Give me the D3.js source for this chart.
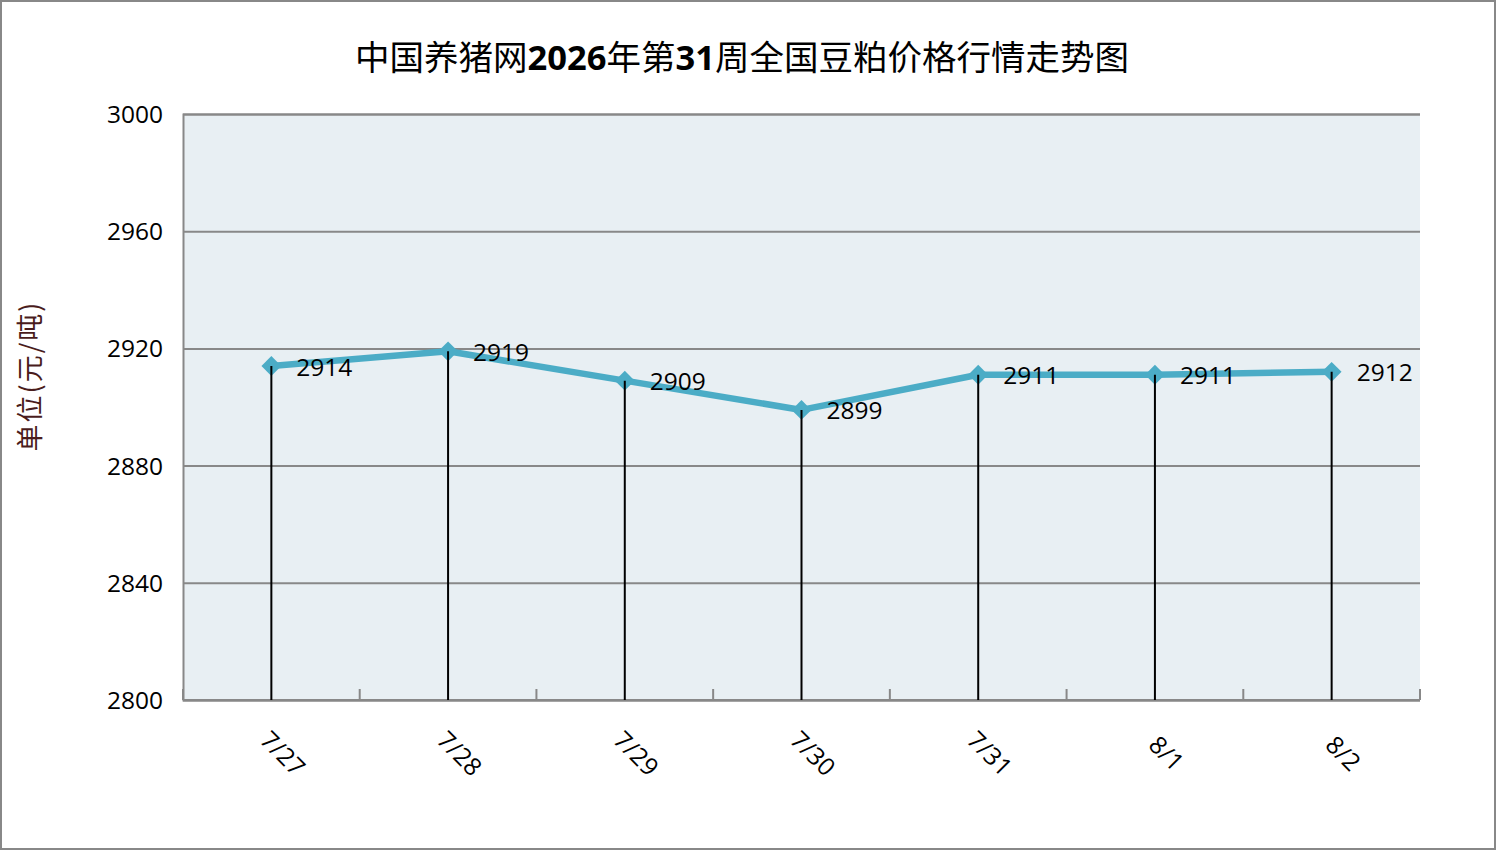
<!DOCTYPE html>
<html><head><meta charset="utf-8">
<script src="https://cdn.jsdelivr.net/npm/d3@7"></script>
<style>html,body{margin:0;padding:0;background:#fff;}svg{display:block;}</style>
</head><body>
<script>
const categories = ["7/27","7/28","7/29","7/30","7/31","8/1","8/2"];
const values = [2914, 2919, 2909, 2899, 2911, 2911, 2912];
const yTicks = [2800, 2840, 2880, 2920, 2960, 3000];
const titleParts = [["中国养猪网",false],["2026",true],["年第",false],["31",true],["周全国豆粕价格行情走势图",false]];
const yLabel = "单位(元/吨)";

const W = 1497, H = 851;
const m = {left:183, right:1420, top:114, bottom:700};
const svg = d3.select("body").append("svg").attr("width", W).attr("height", H);

svg.append("rect").attr("x",1).attr("y",1).attr("width",W-3).attr("height",H-3)
  .attr("fill","#fff").attr("stroke","#888").attr("stroke-width",2);

const x = d3.scaleBand().domain(categories).range([m.left, m.right]).padding(0);
const y = d3.scaleLinear().domain([2800, 3000]).range([m.bottom, m.top]);

svg.append("rect").attr("x",m.left).attr("y",m.top).attr("width",m.right-m.left).attr("height",m.bottom-m.top)
  .attr("fill","#E8EFF3");

const font = "'Open Sans','Noto Sans',sans-serif";
const fs = 24.5;

// y axis grid and labels
const yAxis = d3.axisLeft(y).tickValues(yTicks).tickSize(-(m.right-m.left)).tickPadding(20).tickFormat(d3.format("d"));
const gy = svg.append("g").attr("transform",`translate(${m.left},0)`).call(yAxis);
gy.select(".domain").attr("stroke","#888").attr("stroke-width",2);
gy.selectAll(".tick line").attr("stroke","#888").attr("stroke-width",2);
gy.selectAll(".tick text").attr("font-family",font).attr("font-size",fs).attr("fill","#000").attr("dy","0.35em");

// x axis
const bounds = categories.map(c => x(c)).concat([m.right]);
const gx = svg.append("g");
gx.append("line").attr("x1",m.left).attr("x2",m.right).attr("y1",m.bottom).attr("y2",m.bottom)
  .attr("stroke","#888").attr("stroke-width",2);
gx.selectAll("line.tk").data(bounds).join("line").attr("class","tk")
  .attr("x1",d=>d).attr("x2",d=>d).attr("y1",m.bottom).attr("y2",m.bottom-11)
  .attr("stroke","#888").attr("stroke-width",2);
gx.selectAll("text").data(categories).join("text")
  .attr("transform",d=>`translate(${x(d)+x.bandwidth()/2+10},755) rotate(45)`)
  .attr("text-anchor","middle").attr("dominant-baseline","middle")
  .attr("font-family",font).attr("font-size",fs).attr("fill","#000").text(d=>d);

const cx = d => x(d)+x.bandwidth()/2;
const pts = categories.map((c,i)=>({c, v:values[i]}));

// line
svg.append("path").datum(pts)
  .attr("d", d3.line().x(d=>cx(d.c)).y(d=>y(d.v)))
  .attr("fill","none").attr("stroke","#4BACC6").attr("stroke-width",6.5).attr("stroke-linejoin","round");

// markers
svg.selectAll("path.mk").data(pts).join("path").attr("class","mk")
  .attr("d", d3.symbol().type(d3.symbolDiamond2).size(250))
  .attr("transform", d=>`translate(${cx(d.c)},${y(d.v)})`)
  .attr("fill","#4BACC6");

// drop lines
svg.selectAll("line.drop").data(pts).join("line").attr("class","drop")
  .attr("x1",d=>cx(d.c)).attr("x2",d=>cx(d.c)).attr("y1",d=>y(d.v)).attr("y2",m.bottom)
  .attr("stroke","#000").attr("stroke-width",2);

// data labels
svg.selectAll("text.lbl").data(pts).join("text").attr("class","lbl")
  .attr("x",d=>cx(d.c)+25).attr("y",d=>y(d.v)+3)
  .attr("dominant-baseline","middle")
  .attr("font-family",font).attr("font-size",fs).attr("fill","#000").text(d=>d.v);

// title
const t = svg.append("text").attr("x",742).attr("y",70).attr("text-anchor","middle")
  .attr("font-family","'Noto Sans CJK SC','Open Sans',sans-serif").attr("font-size",34.5).attr("fill","#000");
titleParts.forEach(([s,b]) => {
  t.append("tspan").attr("font-weight", b ? "bold" : "normal")
   .attr("font-family", b ? "'Open Sans',sans-serif" : "'Noto Sans CJK SC',sans-serif").text(s);
});

// y label
svg.append("text").attr("transform","translate(33,376) rotate(-90)")
  .attr("text-anchor","middle").attr("dominant-baseline","middle")
  .attr("font-family","'Noto Sans CJK SC',sans-serif").attr("font-size",27).attr("letter-spacing",2)
  .attr("fill","#4a1c1c").text(yLabel);
</script>
</body></html>
